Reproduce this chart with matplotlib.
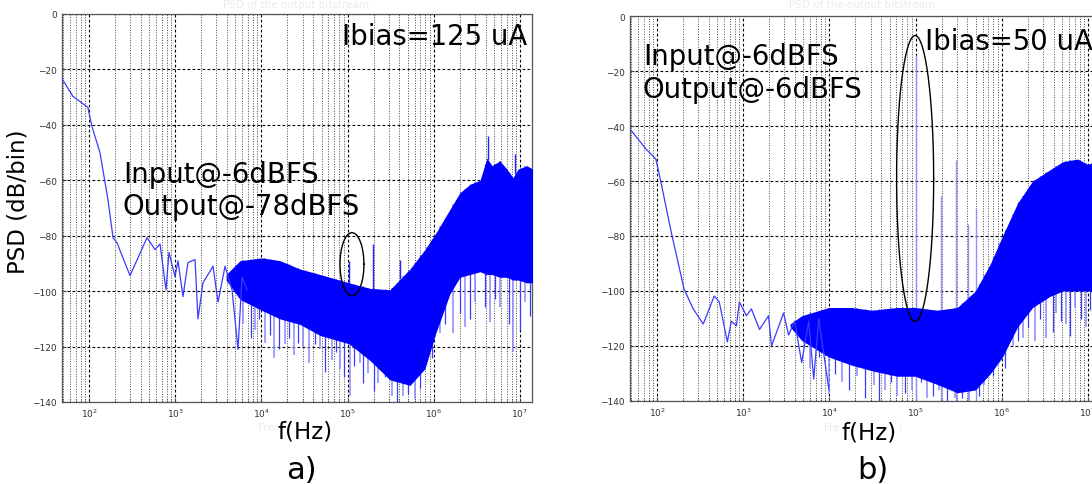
import numpy as np
import matplotlib
matplotlib.use("Agg")
import matplotlib.pyplot as plt
from matplotlib.ticker import LogLocator, MultipleLocator, NullFormatter

# ---- data -------------------------------------------------------------
# (a) Ibias = 125 uA
A_LINE_F = [49, 65, 97, 108, 134, 166, 190, 211, 299, 471, 583, 667, 782, 847,
            995, 1077, 1231, 1406, 1698, 1838, 2102, 2748, 3141, 3786, 4563,
            5354, 5960, 6810]
A_LINE_DB = [-23.5, -29.7, -33.7, -40.5, -50, -67, -80.7, -82.5, -94.4, -80.7,
             -85, -83, -99.5, -86, -94.8, -89, -102, -89.7, -88.6, -110, -97,
             -91, -104, -91, -99.5, -121, -95, -99.5]
A_BAND_F = [3900, 5650, 1.02e4, 1.64e4, 2.8e4, 4.8e4, 1.04e5, 1.82e5, 3.1e5,
            5.3e5, 7.9e5, 1.06e6, 1.54e6, 2.01e6, 2.63e6, 3.44e6, 4.14e6,
            4.73e6, 5.86e6, 7.06e6, 8.3e6, 9.5e6, 1.2e7, 1.41e7]
A_BAND_TOP = [-94, -89, -88, -89, -92, -94, -97, -99, -99.5, -92, -85, -79,
              -70.5, -64.5, -61.5, -60, -52, -54.7, -53, -56, -59, -56, -54.7,
              -56]
A_BAND_BOT = [-96, -103, -107, -110, -112, -116, -119, -125, -132, -134, -128,
              -115, -101, -95, -94, -93, -94, -94, -95, -95, -96, -96, -97, -97]
A_DIP_F = [6.2e3, 7.5e3, 8.4e3, 9.3e3, 1.1e4, 1.25e4, 1.4e4, 1.6e4, 1.88e4,
           2.1e4, 2.4e4, 2.66e4, 3.0e4, 3.21e4, 3.6e4, 4.2e4, 4.8e4, 5.5e4,
           6.6e4, 7.4e4, 8.2e4, 9.1e4, 1.07e5, 1.2e5, 1.39e5, 1.5e5, 1.73e5,
           2.0e5, 2.25e5, 2.7e5, 3.28e5, 3.7e5, 4.39e5, 5.0e5, 6.05e5, 7.0e5,
           8.34e5, 9.5e5, 1.18e6, 1.35e6, 1.67e6, 2.0e6, 2.3e6, 2.63e6, 3.0e6,
           3.93e6, 4.5e6, 5.2e6, 5.86e6, 7.5e6, 8.3e6, 1.0e7, 1.15e7, 1.31e7]
A_DIP_DB = [-112, -117, -114, -110, -118.7, -116, -124, -121, -119, -117, -123,
            -118.7, -120, -111, -126, -119, -121, -129, -125, -122, -128, -131,
            -138, -127, -126, -133, -129.5, -136, -133, -131, -138, -140, -138,
            -137, -139, -135, -121, -124, -115, -112, -115, -108, -113, -110,
            -104, -105.6, -111, -103, -105.6, -112, -122, -114, -104, -109]
A_PEAK_F = [1.04e5, 1.97e5, 4.06e5, 4.26e6, 8.75e6]
A_PEAK_DB = [-89, -83, -88.6, -44, -50.6]

# (b) Ibias = 50 uA
B_LINE_F = [49.8, 74.5, 97, 111, 146, 206, 263, 344, 462, 528, 655, 728, 833,
            903, 1090, 1246, 1546, 1967, 2133, 2942, 3366, 3955, 4770, 5754,
            6580, 7520, 9840]
B_LINE_DB = [-41.5, -48.4, -52, -60.4, -78.5, -99.3, -106.5, -112, -101.8,
             -104, -118.5, -111, -112.7, -104, -109, -106.5, -114, -109, -120,
             -108, -116, -111, -126, -111, -132, -110, -135.6]
B_BAND_F = [3500, 4770, 9840, 1.82e4, 3.12e4, 6.1e4, 9.9e4, 1.79e5, 3.05e5,
            4.95e5, 7.4e5, 1.02e6, 1.53e6, 2.28e6, 3.6e6, 5.1e6, 7.6e6, 1.0e7,
            1.38e7]
B_BAND_TOP = [-112, -109, -106, -106, -107, -106, -106, -107, -106, -100, -90,
              -80, -68, -60, -56, -53, -52, -54, -52]
B_BAND_BOT = [-113, -118, -124, -127, -129, -131, -131, -134, -137, -136, -130,
              -124, -113, -106, -102, -100, -100, -100, -100]
B_DIP_F = [6e3, 7.5e3, 9840, 1.15e4, 1.4e4, 1.7e4, 2.1e4, 2.59e4, 3.3e4, 3.8e4,
           4.43e4, 5.2e4, 6.1e4, 7.5e4, 9.1e4, 1.15e5, 1.36e5, 1.6e5, 1.88e5,
           2.3e5, 2.9e5, 3.49e5, 4.2e5, 5.5e5, 6.3e5, 8e5, 9.4e5, 1.1e6,
           1.34e6, 1.55e6, 1.75e6, 2.0e6, 2.41e6, 2.8e6, 3.3e6, 3.91e6, 4.3e6,
           4.84e6, 5.6e6, 6.17e6, 7.0e6, 8.3e6, 9.5e6, 1.05e7, 1.14e7, 1.25e7]
B_DIP_DB = [-128, -124, -137.5, -130, -133, -136, -131, -139, -134, -140, -136,
            -133, -138, -137, -136, -133, -139, -138, -136, -140, -139, -139,
            -140, -138, -134, -131, -125, -128, -120, -118, -117, -113, -118,
            -110, -117, -115, -108, -111, -112, -116.5, -106, -110, -113,
            -107, -110, -115]
B_SPUR_F = [1.0e5, 1.99e5, 2.97e5, 4.1e5, 5.08e5]
B_SPUR_DB = [-14, -65.5, -52.4, -75.6, -70]

XLIM = (48.6, 1.38e7)
W, H = 1092, 485


def fx(px):
    return px / W


def fy(py):
    return 1 - py / H


def style_axes(ax):
    ax.set_xscale("log")
    ax.set_xlim(*XLIM)
    ax.set_ylim(-140, 0)
    ax.yaxis.set_major_locator(MultipleLocator(20))
    ax.xaxis.set_major_locator(LogLocator(base=10, numticks=12))
    ax.xaxis.set_minor_locator(LogLocator(base=10, subs=np.arange(2, 10), numticks=12))
    ax.xaxis.set_minor_formatter(NullFormatter())
    ax.set_axisbelow(True)
    ax.grid(True, which="major", color="black", linestyle=(0, (2.5, 2)), linewidth=0.8)
    ax.grid(True, which="minor", axis="x", color="#444444", linestyle=(0, (1, 1.6)), linewidth=0.7)
    ax.tick_params(which="both", direction="in", labelsize=6.5, labelcolor="#333333",
                   length=3, color="#444444")
    ax.tick_params(which="minor", length=1.5)
    for s in ax.spines.values():
        s.set_color("#555555")
        s.set_linewidth(0.9)


def draw_psd(ax, line_f, line_db, band_f, band_top, band_bot, dip_f, dip_db):
    lb = np.log10(band_f)
    dip_f = np.asarray(dip_f)
    dip_db = np.asarray(dip_db)
    dip_top = np.interp(np.log10(dip_f), lb, band_top)
    # light and darker strokes, alternating, for the noisy lower edge
    ax.vlines(dip_f[::2], dip_db[::2], dip_top[::2], color="#8a8aff", linewidth=1.1, zorder=2)
    ax.vlines(dip_f[1::2], dip_db[1::2], dip_top[1::2], color="#3a3aff", linewidth=0.9, zorder=2)
    ax.fill_between(band_f, band_bot, band_top, color="#0000ff", linewidth=0, zorder=3)
    ax.plot(line_f, line_db, color="#3b3bff", linewidth=0.9, zorder=4)


fig = plt.figure(figsize=(W / 100, H / 100), dpi=100)

# ---- (a) -------------------------------------------------------------
ax1 = fig.add_axes([fx(62), fy(403), fx(470), 388 / H])
style_axes(ax1)
draw_psd(ax1, A_LINE_F, A_LINE_DB, A_BAND_F, A_BAND_TOP, A_BAND_BOT, A_DIP_F, A_DIP_DB)
pk_base = np.interp(np.log10(A_PEAK_F), np.log10(A_BAND_F), A_BAND_TOP)
ax1.vlines(A_PEAK_F, pk_base, A_PEAK_DB, color="#2222ff", linewidth=1.0, zorder=3)
t = np.linspace(0, 2 * np.pi, 200)
ax1.plot(10 ** (5.051 + 0.139 * np.cos(t)), -90.3 + 11.4 * np.sin(t),
         color="black", linewidth=1.0, zorder=5)

# ---- (b) -------------------------------------------------------------
ax2 = fig.add_axes([fx(630), fy(402), fx(470), 385 / H])
style_axes(ax2)
ax2.vlines(B_SPUR_F, -140, B_SPUR_DB, color="#8f8fff", linewidth=1.0, zorder=2)
draw_psd(ax2, B_LINE_F, B_LINE_DB, B_BAND_F, B_BAND_TOP, B_BAND_BOT, B_DIP_F, B_DIP_DB)
ax2.plot(10 ** (4.995 + 0.215 * np.cos(t)), -59.1 + 52 * np.sin(t),
         color="black", linewidth=1.0, zorder=5)

# ---- text ------------------------------------------------------------
faint = "#ebebeb"
fig.text(fx(296), fy(5), "PSD of the output bitstream", color=faint, fontsize=7.5,
         ha="center", va="center")
fig.text(fx(862), fy(5), "PSD of the output bitstream", color=faint, fontsize=7.5,
         ha="center", va="center")
fig.text(fx(297), fy(428), "Frequency (Hz)", color=faint, fontsize=7.5, ha="center", va="center")
fig.text(fx(863), fy(428), "Frequency (Hz)", color=faint, fontsize=7.5, ha="center", va="center")

big = 19.8
fig.text(fx(342), fy(45), "Ibias=125 uA", fontsize=big, va="baseline")
fig.text(fx(123), fy(183), "Input@-6dBFS", fontsize=big, va="baseline")
fig.text(fx(123), fy(215), "Output@-78dBFS", fontsize=big, va="baseline")
fig.text(fx(925), fy(50), "Ibias=50 uA", fontsize=big, va="baseline")
fig.text(fx(643), fy(65), "Input@-6dBFS", fontsize=big, va="baseline")
fig.text(fx(643), fy(98), "Output@-6dBFS", fontsize=big, va="baseline")

fig.text(fx(18), fy(202), "PSD (dB/bin)", fontsize=16.5, rotation=90, ha="center", va="center")
fig.text(fx(305), fy(439), "f(Hz)", fontsize=16.5, ha="center", va="baseline",
         bbox=dict(facecolor="white", edgecolor="none", pad=1))
fig.text(fx(869), fy(440), "f(Hz)", fontsize=16.5, ha="center", va="baseline",
         bbox=dict(facecolor="white", edgecolor="none", pad=1))
fig.text(fx(301), fy(479), "a)", fontsize=22, ha="center", va="baseline")
fig.text(fx(873), fy(479), "b)", fontsize=22, ha="center", va="baseline")

fig.savefig("out.png", dpi=100)
